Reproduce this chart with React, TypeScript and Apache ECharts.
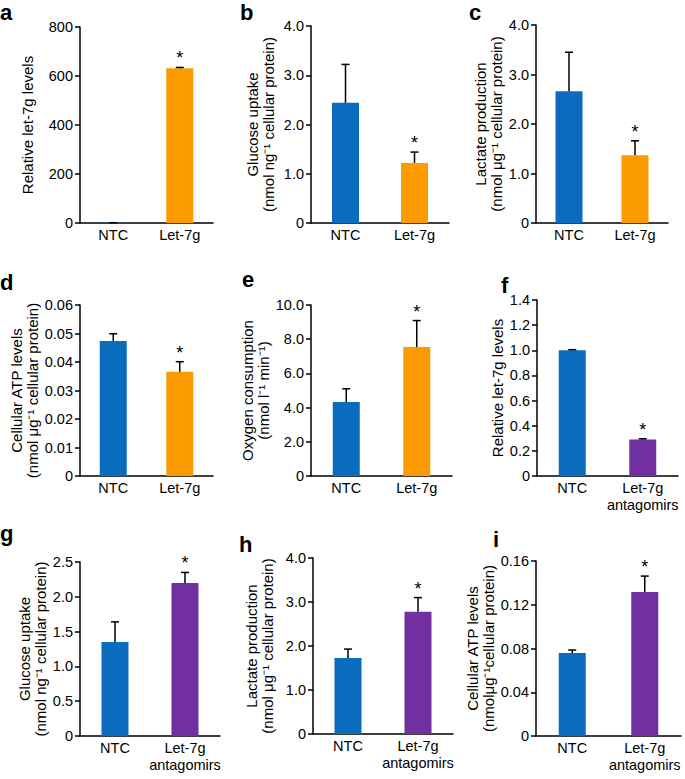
import React, { useEffect, useRef } from "react";
import * as echarts from "echarts";

const FONT = '"Liberation Sans", Arial, Helvetica, sans-serif';
const BLUE = "#0a6cbf";
const ORANGE = "#fb9b00";
const PURPLE = "#7030a0";

// ---- data ----
const catsOver = ["NTC", "Let-7g"];
const catsAnta = ["NTC", "Let-7g\nantagomirs"];

const aValues = [1, 632];
const aErrors = [0, 3];
const bValues = [2.44, 1.22];
const bErrors = [0.78, 0.22];
const cValues = [2.66, 1.37];
const cErrors = [0.79, 0.29];
const dValues = [0.0474, 0.0366];
const dErrors = [0.0025, 0.0035];
const eValues = [4.33, 7.54];
const eErrors = [0.77, 1.55];
const fValues = [1.0, 0.29];
const fErrors = [0.005, 0.006];
const gValues = [1.35, 2.2];
const gErrors = [0.29, 0.15];
const hValues = [1.73, 2.78];
const hErrors = [0.2, 0.32];
const iValues = [0.0759, 0.1317];
const iErrors = [0.0027, 0.0145];
const significant = [false, true];

type Panel = {
  letter: string;
  lx: number;
  ly: number;
  grid: { left: number; top: number; width: number; height: number };
  max: number;
  interval: number;
  decimals: number;
  name: string;
  nameGap: number;
  cats: string[];
  values: number[];
  errors: number[];
  colors: string[];
};

const panels: Panel[] = [
  { letter: "a", lx: 0, ly: 12, grid: { left: 80, top: 27, width: 133, height: 196 }, max: 800, interval: 200, decimals: 0,
    name: "Relative let-7g levels", nameGap: 45, cats: catsOver, values: aValues, errors: aErrors, colors: [BLUE, ORANGE] },
  { letter: "b", lx: 240, ly: 12, grid: { left: 311, top: 26, width: 138, height: 197 }, max: 4, interval: 1, decimals: 1,
    name: "Glucose uptake\n(nmol ng\u207B\u00B9 cellular protein)", nameGap: 35, cats: catsOver, values: bValues, errors: bErrors, colors: [BLUE, ORANGE] },
  { letter: "c", lx: 469, ly: 12, grid: { left: 536, top: 25, width: 132, height: 198 }, max: 4, interval: 1, decimals: 1,
    name: "Lactate production\n(nmol \u03BCg\u207B\u00B9 cellular protein)", nameGap: 30, cats: catsOver, values: cValues, errors: cErrors, colors: [BLUE, ORANGE] },
  { letter: "d", lx: 0, ly: 282, grid: { left: 80, top: 305, width: 133, height: 171 }, max: 0.06, interval: 0.01, decimals: 2,
    name: "Cellular ATP levels\n(nmol \u03BCg\u207B\u00B9 cellular protein)", nameGap: 31, cats: catsOver, values: dValues, errors: dErrors, colors: [BLUE, ORANGE] },
  { letter: "e", lx: 242, ly: 279, grid: { left: 311, top: 305, width: 141, height: 171 }, max: 10, interval: 2, decimals: 1,
    name: "Oxygen consumption\n(nmol l\u207B\u00B9 min\u207B\u00B9)", nameGap: 40, cats: catsOver, values: eValues, errors: eErrors, colors: [BLUE, ORANGE] },
  { letter: "f", lx: 501, ly: 285, grid: { left: 537, top: 300, width: 141, height: 176 }, max: 1.4, interval: 0.2, decimals: 1,
    name: "Relative let-7g levels", nameGap: 32, cats: catsAnta, values: fValues, errors: fErrors, colors: [BLUE, PURPLE] },
  { letter: "g", lx: 0, ly: 533, grid: { left: 80, top: 562, width: 140, height: 174 }, max: 2.5, interval: 0.5, decimals: 1,
    name: "Glucose uptake\n(nmol ng\u207B\u00B9 cellular protein)", nameGap: 31, cats: catsAnta, values: gValues, errors: gErrors, colors: [BLUE, PURPLE] },
  { letter: "h", lx: 239, ly: 544, grid: { left: 313, top: 558, width: 140, height: 176 }, max: 4, interval: 1, decimals: 1,
    name: "Lactate production\n(nmol \u03BCg\u207B\u00B9 cellular protein)", nameGap: 38, cats: catsAnta, values: hValues, errors: hErrors, colors: [BLUE, PURPLE] },
  { letter: "i", lx: 493, ly: 539, grid: { left: 536, top: 561, width: 145, height: 175 }, max: 0.16, interval: 0.04, decimals: 2,
    name: "Cellular ATP levels\n(nmol\u03BCg\u207B\u00B9cellular protein)", nameGap: 31, cats: catsAnta, values: iValues, errors: iErrors, colors: [BLUE, PURPLE] },
];

const axisLineStyle = { color: "#000", width: 1.5 };

function buildOption() {
  const grid = panels.map((p) => ({ ...p.grid, containLabel: false }));
  const xAxis = panels.map((p, i) => ({
    type: "category",
    gridIndex: i,
    data: p.cats,
    axisLine: { lineStyle: axisLineStyle },
    axisTick: { length: 5, lineStyle: axisLineStyle },
    axisLabel: { interval: 0, color: "#000", fontSize: 14.5, fontFamily: FONT, margin: 3, lineHeight: 17 },
    splitLine: { show: false },
  }));
  const yAxis = panels.map((p, i) => ({
    type: "value",
    gridIndex: i,
    min: 0,
    max: p.max,
    interval: p.interval,
    name: p.name,
    nameLocation: "middle",
    nameRotate: 90,
    nameGap: p.nameGap,
    nameTextStyle: { color: "#000", fontSize: 15, fontFamily: FONT, lineHeight: 16 },
    axisLine: { show: true, lineStyle: axisLineStyle },
    axisTick: { show: true, length: 5, lineStyle: axisLineStyle },
    axisLabel: {
      color: "#000",
      fontSize: 14.5,
      fontFamily: FONT,
      margin: 7,
      formatter: (v: number) => (Math.abs(v) < 1e-12 ? "0" : v.toFixed(p.decimals)),
    },
    splitLine: { show: false },
  }));
  const series: any[] = [];
  panels.forEach((p, i) => {
    series.push({
      type: "bar",
      xAxisIndex: i,
      yAxisIndex: i,
      barWidth: 27,
      silent: true,
      data: p.values.map((v, j) => ({ value: v, itemStyle: { color: p.colors[j] } })),
    });
    series.push({
      type: "custom",
      xAxisIndex: i,
      yAxisIndex: i,
      silent: true,
      z: 5,
      data: p.values.map((v, j) => [j, v, v + p.errors[j], significant[j] ? 1 : 0]),
      renderItem: (params: any, api: any) => {
        const x = api.value(0);
        const v = api.value(1);
        const t = api.value(2);
        const s = api.value(3);
        const p0 = api.coord([x, v]);
        const p1 = api.coord([x, t]);
        const children: any[] = [
          { type: "line", shape: { x1: p0[0], y1: p0[1], x2: p1[0], y2: p1[1] }, style: { stroke: "#000", lineWidth: 1.5 } },
          { type: "line", shape: { x1: p1[0] - 4, y1: p1[1], x2: p1[0] + 4, y2: p1[1] }, style: { stroke: "#000", lineWidth: 1.5 } },
        ];
        if (s) {
          children.push({
            type: "text",
            x: p1[0],
            y: p1[1] - 9,
            style: { text: "*", align: "center", verticalAlign: "middle", fontSize: 18, fontFamily: FONT, fill: "#000" },
          });
        }
        return { type: "group", children };
      },
    });
  });
  const graphic = panels.map((p) => ({
    type: "text",
    x: p.lx,
    y: p.ly,
    style: {
      text: p.letter,
      fontSize: 22,
      lineHeight: 18,
      fontWeight: "bold",
      fontFamily: FONT,
      fill: "#000",
      align: "left",
      verticalAlign: "middle",
    },
  }));
  return { animation: false, backgroundColor: "#fff", grid, xAxis, yAxis, series, graphic };
}

export default function App() {
  const ref = useRef<HTMLDivElement>(null);
  useEffect(() => {
    if (!ref.current) return;
    const chart = echarts.init(ref.current, undefined, { renderer: "svg" });
    chart.setOption(buildOption() as any);
    return () => chart.dispose();
  }, []);
  return (
    <div
      ref={ref}
      style={{ position: "absolute", left: 0, top: 0, width: 685, height: 779, background: "#fff" }}
    />
  );
}
